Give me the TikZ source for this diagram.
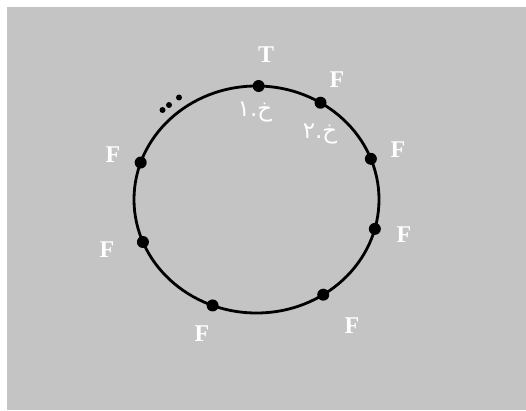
\documentclass[tikz,border=0pt]{standalone}
\usepackage{fontspec}
\setmainfont{Liberation Serif}
\newfontfamily\arabicfont[Script=Arabic]{DejaVu Sans}
\TeXXeTstate=1
\usetikzlibrary{positioning,calc}
\definecolor{panel}{HTML}{C4C4C4}

\begin{document}
\begin{tikzpicture}[
  x=1pt, y=1pt,
  dot/.style={circle, fill=black, inner sep=0pt, minimum size=12pt},
  val/.style={text=white, font=\fontsize{24}{24}\selectfont\bfseries, inner sep=0pt},
  tag/.style={text=white, font=\arabicfont\fontsize{23}{23}\selectfont, inner sep=0pt}
]
\useasboundingbox (0,0) rectangle (526,410);
\fill[panel] (7,0) rectangle (526,403);
\coordinate (c) at (256.5,210.5);
\draw[line width=2.8pt] (c) ellipse [x radius=122.5, y radius=113.5];
% states on the ring
\foreach \name/\ang in {s0/89, s1/58.5, s2/21, s3/-15, s4/-57, s5/-111, s6/-158, s7/161}
  \node[dot] (\name) at ($(c)+(\ang:122.5 and 113.5)$) {};
% values
\node[val] (t0) at (266,355) {T};
\node[val] (f1) at (337,330) {F};
\node[val] (f2) at (398,260) {F};
\node[val] (f3) at (404,175) {F};
\node[val] (f4) at (352,84) {F};
\node[val] (f5) at (202,76) {F};
\node[val] (f6) at (107,160) {F};
\node[val] (f7) at (113,255) {F};
% cell names
\node[tag] (n0) at (255,298) {\beginR خ.١\endR};
\node[tag] (n1) at (320,276) {\beginR خ.٢\endR};
% more cells
\foreach \px/\py in {162.5/300, 169/305, 179/312.5}
  \fill (\px,\py) circle (3);
\end{tikzpicture}
\end{document}
